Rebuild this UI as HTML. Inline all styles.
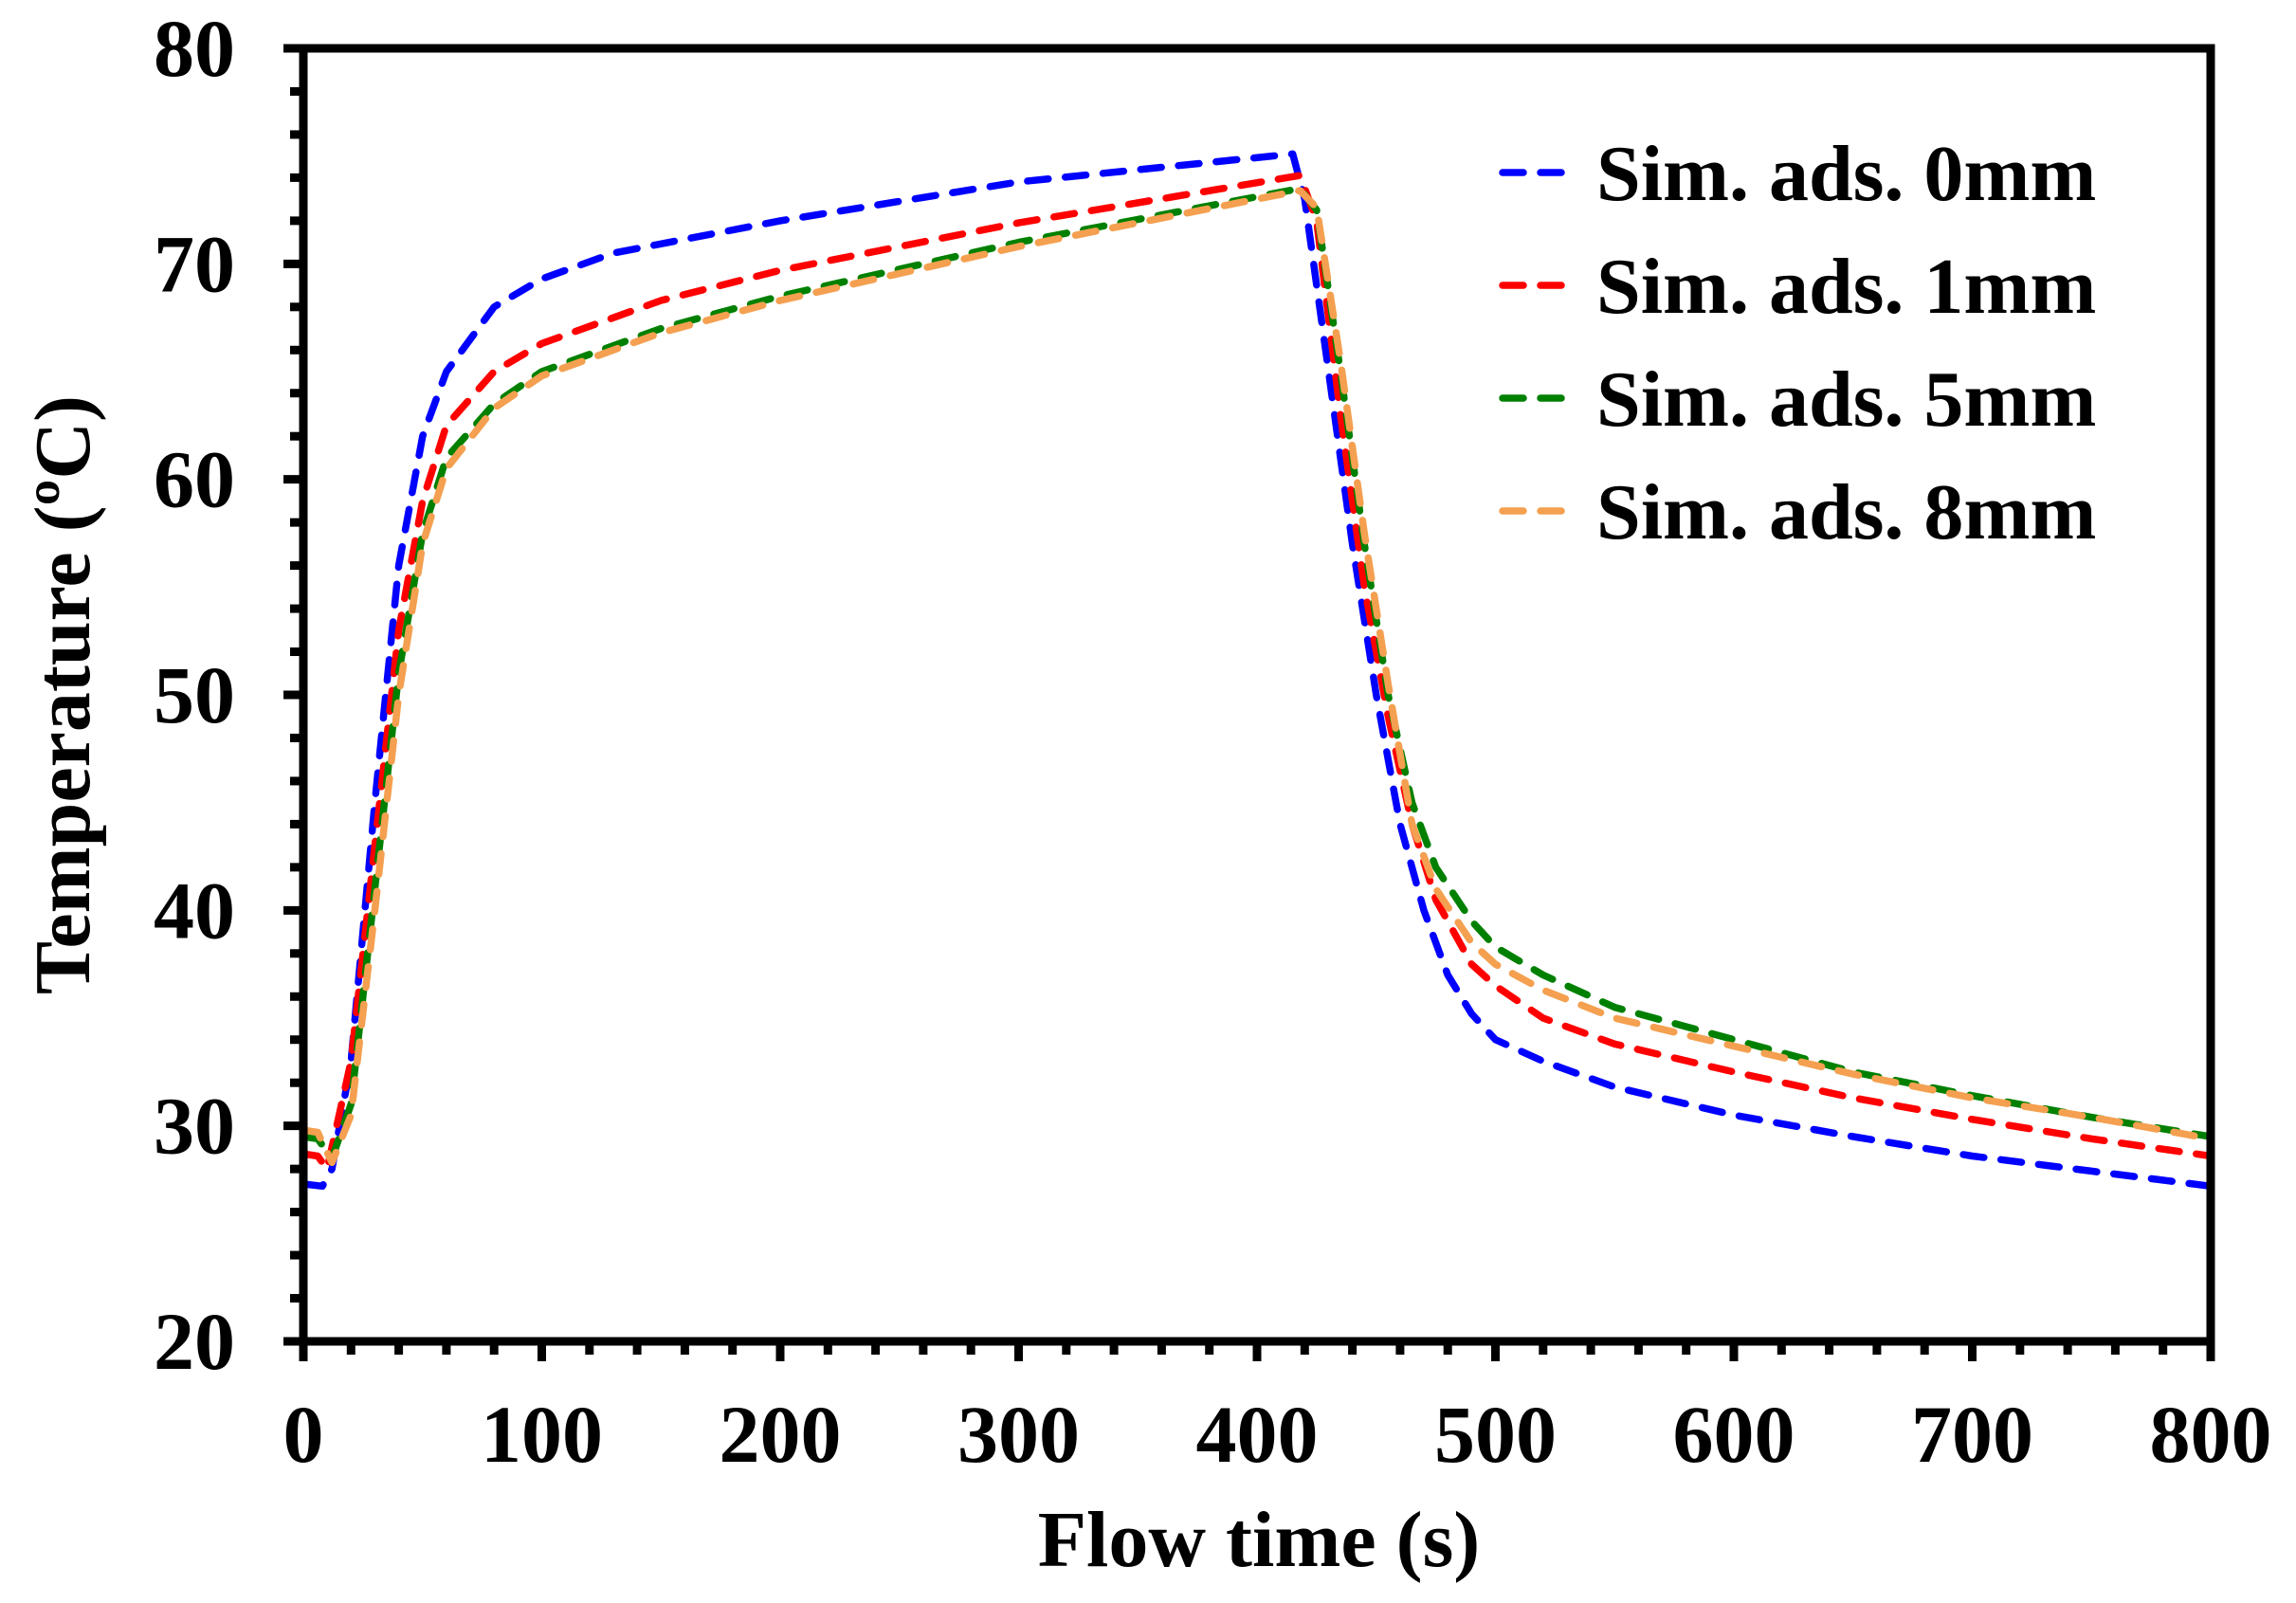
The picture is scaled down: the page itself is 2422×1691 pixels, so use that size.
<!DOCTYPE html>
<html><head><meta charset="utf-8">
<style>
html,body{margin:0;padding:0;background:#fff;}
svg{display:block;}
text{font-family:"Liberation Serif",serif;font-weight:bold;fill:#000;}
</style></head>
<body>
<svg id="chart" width="2422" height="1691" viewBox="0 0 2422 1691" xmlns="http://www.w3.org/2000/svg">
<g id="grid"></g>
<g id="series"></g>
<g id="axes"></g>
<g id="legend"></g>
<text x="1328" y="1652" font-size="84" text-anchor="middle">Flow time (s)</text>
<text x="0" y="0" font-size="84" text-anchor="middle" transform="translate(94,733) rotate(-90)">Temperature (ºC)</text>
</svg>
<script>
const xTicks = [0,100,200,300,400,500,600,700,800];
const yTicks = [20,30,40,50,60,70,80];
const seriesNames = ["Sim. ads. 0mm","Sim. ads. 1mm","Sim. ads. 5mm","Sim. ads. 8mm"];
const seriesColors = ["#0000ff","#ff0000","#008000","#f4a050"];
const t0 = [0,8,12,20,30,40,50,60,80,100,130,200,300,415,420,430,440,450,460,470,480,490,500,520,550,600,650,700,750,800];
const v0 = [27.3,27.2,28,33,45,56,62,65,68,69.3,70.5,72,73.8,75.1,73,65,57,50,44,40,37,35.2,34,33,31.8,30.5,29.5,28.6,27.9,27.2];
const t1 = [0,6,10,20,30,40,50,60,80,100,150,200,300,418,425,435,445,455,465,475,490,500,520,550,600,650,700,750,800];
const v1 = [28.7,28.6,28,33,43,53,59,62.5,65,66.3,68.3,69.7,71.9,74.1,72,63,55,49,44,40.5,37.5,36.5,35,33.8,32.5,31.3,30.3,29.4,28.6];
const t2 = [0,6,12,20,30,40,50,60,80,100,150,200,300,418,425,435,445,455,465,475,490,500,520,550,600,650,700,750,800];
const v2 = [29.5,29.4,28.5,31,41,51,57.5,61,63.5,65,67,68.5,71,73.5,72.5,65,57,50,45,42,39.5,38.3,37,35.5,34,32.5,31.4,30.4,29.5];
const t3 = [0,6,12,20,30,40,50,60,80,100,150,200,300,418,425,435,445,455,465,475,490,500,520,550,600,650,700,750,800];
const v3 = [29.8,29.7,28.3,30.5,40,50,57,60.5,63.3,64.8,66.8,68.3,70.8,73.4,72.6,65.5,57.5,50.5,44,41,38.5,37.5,36.3,35,33.7,32.4,31.3,30.4,29.4];
const allT = [t0,t1,t2,t3];
const allV = [v0,v1,v2,v3];

const NS = "http://www.w3.org/2000/svg";
const L=320,R=2332,T=51,B=1415;
function xs(v){return L+(v-0)/(800-0)*(R-L);}
function ys(v){return B-(v-20)/(80-20)*(B-T);}
function mk(tag,attrs,parent){const e=document.createElementNS(NS,tag);for(const k in attrs)e.setAttribute(k,attrs[k]);parent.appendChild(e);return e;}

const series=document.getElementById('series');
allT.forEach((tt,i)=>{
  const d=tt.map((t,j)=>(j?'L':'M')+xs(t).toFixed(1)+','+ys(allV[i][j]).toFixed(1)).join(' ');
  const p=mk('path',{d:d,fill:'none',stroke:seriesColors[i],'stroke-width':7.5,'stroke-dasharray':'22 18','stroke-linecap':'round','stroke-linejoin':'round'},series);
  
  
});

const axes=document.getElementById('axes');
const frame=mk('rect',{x:L,y:T,width:R-L,height:B-T,fill:'none',stroke:'#000','stroke-width':9},axes);


for(let v=0;v<=800;v+=20){
  const major=v%100===0;
  const tk=mk('line',{x1:xs(v),x2:xs(v),y1:B,y2:B+(major?21:14),stroke:'#000','stroke-width':9},axes);
  
  
}
for(let v=20;v<=80;v+=2){
  const major=v%10===0;
  const tk=mk('line',{x1:L-(major?21:14),x2:L,y1:ys(v),y2:ys(v),stroke:'#000','stroke-width':9},axes);
  
  
}
xTicks.forEach(v=>{
  const t=mk('text',{x:xs(v),y:1542,'font-size':86,'text-anchor':'middle'},axes);
  t.textContent=v;
  
  
});
yTicks.forEach(v=>{
  const t=mk('text',{x:248,y:ys(v)+29,'font-size':86,'text-anchor':'end'},axes);
  t.textContent=v;
  
  
});

const legend=document.getElementById('legend');


seriesNames.forEach((n,i)=>{
  const y=182+i*119;
  const ln=mk('line',{x1:1585,x2:1660,y1:y,y2:y,stroke:seriesColors[i],'stroke-width':7.5,'stroke-dasharray':'22 18','stroke-linecap':'round'},legend);
  
  
  const t=mk('text',{x:1684,y:y+29,'font-size':84},legend);
  t.textContent=n;
  
  
});
</script>
</body></html>
